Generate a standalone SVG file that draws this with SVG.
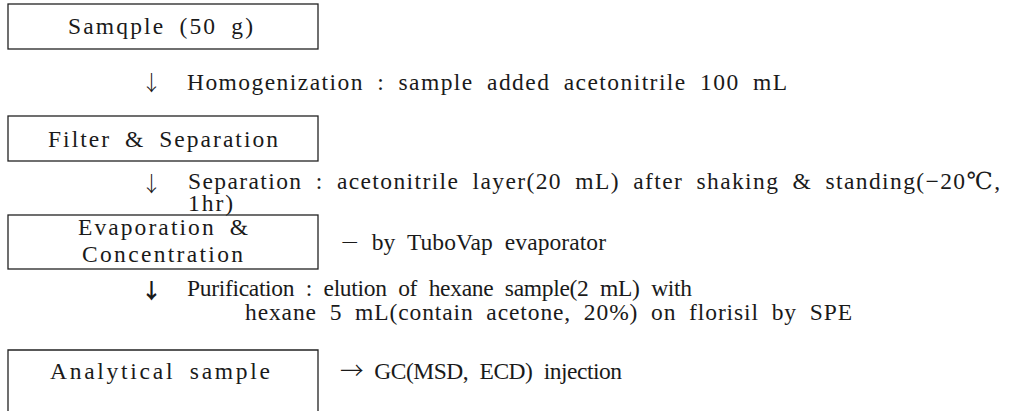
<svg xmlns="http://www.w3.org/2000/svg" width="1011" height="411" viewBox="0 0 1011 411">
<style>
text{font-family:"Liberation Serif","DejaVu Serif",serif;font-size:23.5px;fill:#1a1a1a;word-spacing:6px}
.ar{font-family:"Noto Sans CJK KR","DejaVu Sans",sans-serif;font-size:21px;font-weight:300}
.sym{font-family:"Noto Sans CJK KR","DejaVu Sans",sans-serif;font-weight:300}
.dash{font-family:"DejaVu Sans",sans-serif;font-weight:300}
.box{fill:#fff;stroke:#222;stroke-width:1.3}
</style>
<rect width="1011" height="411" fill="#fff"/>
<g id="n1"><rect class="box" x="8" y="4" width="310" height="45"/><text x="68" y="34" textLength="185" lengthAdjust="spacing">Samqple (50 g)</text></g>
<g id="n2"><rect class="box" x="8" y="116" width="310" height="45"/><text x="48" y="147" textLength="230" lengthAdjust="spacing">Filter &amp; Separation</text></g>
<g id="n3"><rect class="box" x="8" y="215" width="310" height="54"/><text x="78" y="235" textLength="170" lengthAdjust="spacing">Evaporation &amp;</text><text x="82" y="262" textLength="161" lengthAdjust="spacing">Concentration</text></g>
<g id="n4"><path class="box" d="M8 411V350H318V411"/><text x="50" y="379" textLength="220" lengthAdjust="spacing">Analytical sample</text></g>
<g id="connectors">
<text class="ar" x="141" y="90">↓</text>
<text x="187" y="90" textLength="600" lengthAdjust="spacing">Homogenization : sample added acetonitrile 100 mL</text>
<text class="ar" x="141" y="191">↓</text>
<text x="188" y="189" textLength="812" lengthAdjust="spacing">Separation : acetonitrile layer(20 mL) after shaking &amp; standing(−20℃,</text>
<text x="188" y="211" textLength="45" lengthAdjust="spacing">1hr)</text>
<text x="340" y="250" textLength="266" lengthAdjust="spacing"><tspan class="dash">−</tspan> by TuboVap evaporator</text>
<text class="ar" x="141" y="298" style="font-weight:700">↓</text>
<text x="187" y="296" textLength="505" lengthAdjust="spacing">Purification : elution of hexane sample(2 mL) with</text>
<text x="245" y="320" textLength="607" lengthAdjust="spacing">hexane 5 mL(contain acetone, 20%) on florisil by SPE</text>
<text x="340" y="379" textLength="282" lengthAdjust="spacing"><tspan class="sym">→</tspan> GC(MSD, ECD) injection</text>
</g>
</svg>
